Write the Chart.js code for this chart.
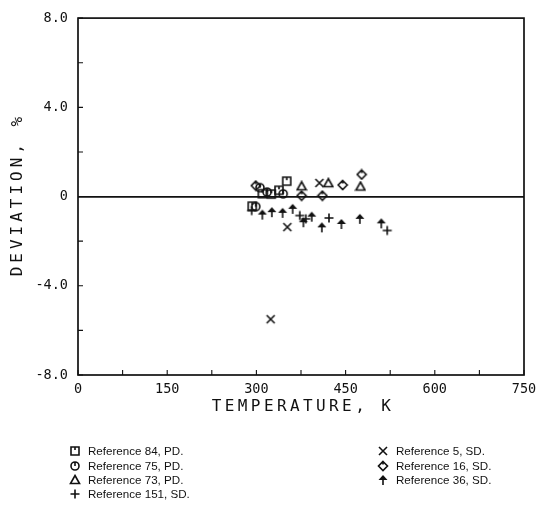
<!DOCTYPE html>
<html>
<head>
<meta charset="utf-8">
<script src="https://cdn.jsdelivr.net/npm/chart.js@4.4.1/dist/chart.umd.min.js"></script>
<style>
  body { margin: 0; background: #fff; }
  #wrap { position: relative; width: 545px; height: 513px; }
  #legend .item { position: absolute; font: 11.6px "Liberation Sans", Arial, sans-serif; color: #111; white-space: nowrap; line-height: 14px; }
  #legend canvas { position: absolute; }
</style>
</head>
<body>
<div id="wrap">
  <canvas id="chart" width="545" height="513"></canvas>
  <div id="legend"></div>
</div>
<script>
// temperature (K) and deviation (%) per reference
const ref84T = [351, 310, 325, 338, 293];
const ref84D = [0.69, 0.13, 0.11, 0.28, -0.43];
const ref75T = [306, 318, 345, 299];
const ref75D = [0.40, 0.20, 0.12, -0.45];
const ref73T = [376, 421, 475];
const ref73D = [0.46, 0.60, 0.45];
const ref151T = [292, 373, 383, 422, 520];
const ref151D = [-0.63, -0.85, -1.00, -0.96, -1.52];
const ref5T = [406, 352, 324];
const ref5D = [0.61, -1.37, -5.50];
const ref16T = [299, 376, 411, 445, 477];
const ref16D = [0.49, 0.04, 0.04, 0.52, 0.99];
const ref36T = [310, 326, 344, 361, 379, 393, 410, 443, 474, 510];
const ref36D = [-0.81, -0.70, -0.73, -0.55, -1.15, -0.90, -1.38, -1.23, -1.00, -1.20];

const labels = ["Reference 84, PD.", "Reference 75, PD.", "Reference 73, PD.", "Reference 151, SD.",
                "Reference 5, SD.", "Reference 16, SD.", "Reference 36, SD."];
const glyphs = ['square', 'circle', 'triangle', 'plus', 'cross', 'diamond', 'arrow'];
const temps = [ref84T, ref75T, ref73T, ref151T, ref5T, ref16T, ref36T];
const devs = [ref84D, ref75D, ref73D, ref151D, ref5D, ref16D, ref36D];

const xTitle = 'TEMPERATURE, K';
const yTitle = 'DEVIATION, %';

function drawGlyph(ctx, kind, cx, cy) {
  ctx.strokeStyle = '#111';
  ctx.fillStyle = '#111';
  ctx.lineWidth = 1.6;
  ctx.beginPath();
  if (kind === 'square') {
    ctx.rect(cx - 4, cy - 4, 8, 8);
    ctx.moveTo(cx, cy - 4); ctx.lineTo(cx, cy - 1);
    ctx.stroke();
  } else if (kind === 'circle') {
    ctx.arc(cx, cy, 4, 0, Math.PI * 2);
    ctx.moveTo(cx, cy - 4); ctx.lineTo(cx, cy);
    ctx.stroke();
  } else if (kind === 'triangle') {
    ctx.moveTo(cx, cy - 4.5); ctx.lineTo(cx + 4.5, cy + 3.5); ctx.lineTo(cx - 4.5, cy + 3.5);
    ctx.closePath(); ctx.stroke();
  } else if (kind === 'plus') {
    ctx.moveTo(cx - 4.5, cy); ctx.lineTo(cx + 4.5, cy);
    ctx.moveTo(cx, cy - 4.5); ctx.lineTo(cx, cy + 4.5);
    ctx.stroke();
  } else if (kind === 'cross') {
    ctx.moveTo(cx - 4, cy - 4); ctx.lineTo(cx + 4, cy + 4);
    ctx.moveTo(cx + 4, cy - 4); ctx.lineTo(cx - 4, cy + 4);
    ctx.stroke();
  } else if (kind === 'diamond') {
    ctx.moveTo(cx, cy - 4.5); ctx.lineTo(cx + 4.5, cy); ctx.lineTo(cx, cy + 4.5); ctx.lineTo(cx - 4.5, cy);
    ctx.closePath();
    ctx.moveTo(cx, cy - 4.5); ctx.lineTo(cx, cy - 1.5);
    ctx.stroke();
  } else if (kind === 'arrow') {
    ctx.moveTo(cx, cy - 5); ctx.lineTo(cx + 4.5, cy); ctx.lineTo(cx - 4.5, cy);
    ctx.closePath(); ctx.fill();
    ctx.beginPath();
    ctx.moveTo(cx, cy - 1); ctx.lineTo(cx, cy + 5);
    ctx.stroke();
  }
}

function makeIcon(kind) {
  const c = document.createElement('canvas');
  c.width = 12; c.height = 12;
  drawGlyph(c.getContext('2d'), kind, 6, 6);
  return c;
}

const datasets = labels.map((lab, i) => ({
  label: lab,
  data: temps[i].map((t, j) => ({x: t, y: devs[i][j]})),
  pointStyle: makeIcon(glyphs[i]),
  pointRadius: 6
}));

const mono = 'DejaVu Sans Mono';

// box, inward ticks and the spaced-out plotter style axis titles
const frame = {
  id: 'frame',
  afterDraw(chart) {
    const {ctx, chartArea: a, scales: {x, y}} = chart;
    ctx.save();
    ctx.strokeStyle = '#111';
    ctx.lineWidth = 1.7;
    ctx.strokeRect(a.left, a.top, a.right - a.left, a.bottom - a.top);
    ctx.beginPath();
    x.ticks.forEach(t => {
      const px = x.getPixelForValue(t.value);
      ctx.moveTo(px, a.bottom); ctx.lineTo(px, a.bottom - 5);
    });
    y.ticks.forEach(t => {
      const py = y.getPixelForValue(t.value);
      ctx.moveTo(a.left, py); ctx.lineTo(a.left + 5, py);
    });
    ctx.lineWidth = 1.1;
    ctx.stroke();

    ctx.fillStyle = '#111';
    ctx.font = '16px "' + mono + '"';
    ctx.textAlign = 'center';
    ctx.textBaseline = 'middle';
    ctx.letterSpacing = '3.4px';
    ctx.fillText(xTitle, (a.left + a.right) / 2 + 2, 407);
    ctx.translate(18, (a.top + a.bottom) / 2);
    ctx.rotate(-Math.PI / 2);
    ctx.letterSpacing = '4px';
    ctx.fillText(yTitle, 2, 0);
    ctx.restore();
  }
};

new Chart(document.getElementById('chart'), {
  type: 'scatter',
  data: { datasets: datasets },
  options: {
    responsive: false,
    animation: false,
    layout: { padding: { top: 18, right: 21, left: 0, bottom: 0 } },
    plugins: { legend: { display: false }, tooltip: { enabled: false } },
    scales: {
      x: {
        type: 'linear', min: 0, max: 750,
        afterFit: s => { s.height = 138; },
        grid: { display: false, drawTicks: false },
        border: { display: false },
        ticks: {
          stepSize: 75, autoSkip: false, maxRotation: 0, padding: 6, color: '#111',
          font: { family: mono, size: 13.5 },
          callback: v => v % 150 === 0 ? String(v) : ''
        }
      },
      y: {
        min: -8, max: 8,
        afterFit: s => { s.width = 78; },
        grid: {
          drawTicks: false, lineWidth: 1.7,
          color: c => c.tick.value === 0 ? '#111' : 'rgba(0,0,0,0)'
        },
        border: { display: false },
        ticks: {
          stepSize: 2, autoSkip: false, padding: 10, color: '#111',
          font: { family: mono, size: 13.5 },
          callback: v => v === 0 ? '0' : (v % 4 === 0 ? v.toFixed(1) : '')
        }
      }
    }
  },
  plugins: [frame]
});

// legend below the plot, two columns
const legendPos = [
  [75, 451], [75, 466], [75, 480], [75, 494],
  [383, 451], [383, 466], [383, 480]
];
const legend = document.getElementById('legend');
labels.forEach((lab, i) => {
  const [ix, cy] = legendPos[i];
  const icon = makeIcon(glyphs[i]);
  icon.style.left = (ix - 6) + 'px';
  icon.style.top = (cy - 6) + 'px';
  legend.appendChild(icon);
  const d = document.createElement('div');
  d.className = 'item';
  d.textContent = lab;
  d.style.left = (ix + 13) + 'px';
  d.style.top = (cy - 7) + 'px';
  legend.appendChild(d);
});
</script>
</body>
</html>
